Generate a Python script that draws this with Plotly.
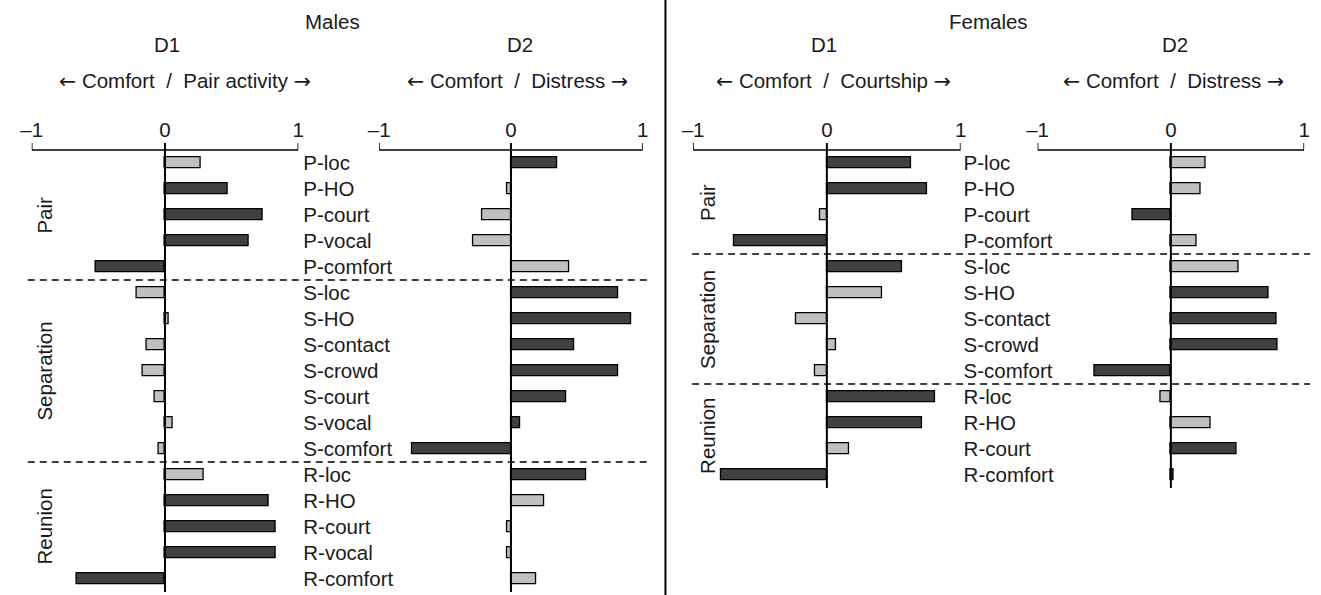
import plotly.graph_objects as go

# ---------------- data ----------------
males_cats = ["P-loc", "P-HO", "P-court", "P-vocal", "P-comfort",
              "S-loc", "S-HO", "S-contact", "S-crowd", "S-court", "S-vocal", "S-comfort",
              "R-loc", "R-HO", "R-court", "R-vocal", "R-comfort"]
males_d1 = [0.27, 0.47, 0.73, 0.63, -0.52,
            -0.21, 0.03, -0.14, -0.17, -0.08, 0.06, -0.05,
            0.29, 0.78, 0.83, 0.83, -0.66]
males_d1_sig = [0, 1, 1, 1, 1, 0, 0, 0, 0, 0, 0, 0, 0, 1, 1, 1, 1]
males_d2 = [0.35, -0.03, -0.22, -0.29, 0.44,
            0.81, 0.91, 0.48, 0.81, 0.42, 0.07, -0.75,
            0.57, 0.25, -0.03, -0.03, 0.19]
males_d2_sig = [1, 0, 0, 0, 0, 1, 1, 1, 1, 1, 1, 1, 1, 0, 0, 0, 0]

females_cats = ["P-loc", "P-HO", "P-court", "P-comfort",
                "S-loc", "S-HO", "S-contact", "S-crowd", "S-comfort",
                "R-loc", "R-HO", "R-court", "R-comfort"]
females_d1 = [0.63, 0.75, -0.05, -0.69,
              0.56, 0.41, -0.23, 0.07, -0.09,
              0.81, 0.71, 0.17, -0.79]
females_d1_sig = [1, 1, 0, 1, 1, 0, 0, 0, 0, 1, 1, 0, 1]
females_d2 = [0.26, 0.22, -0.29, 0.19,
              0.51, 0.73, 0.79, 0.80, -0.57,
              -0.08, 0.30, 0.49, 0.02]
females_d2_sig = [0, 0, 1, 0, 0, 1, 1, 1, 1, 0, 0, 1, 1]

tick_vals = [-1, 0, 1]
tick_text = ["\u20131", "0", "1"]

males_groups = [("Pair", 2), ("Separation", 8), ("Reunion", 14)]
females_groups = [("Pair", 1.5), ("Separation", 6), ("Reunion", 10.5)]
males_breaks = [4.5, 11.5]
females_breaks = [3.5, 8.5]

# ---------------- layout helpers ----------------
W, H = 1321, 595
ROW = 26.0
TOP_PAD = 0.3
FONT = "Liberation Sans, Arial, sans-serif"
TXT = "#1a1a1a"
DARK, LIGHT = "#404040", "#c0c0c0"
FS = 20.5


def pxx(x):
    return x / W


def pxy(y):
    return 1 - y / H


bottom_m = 592.0
bottom_f = 488.0
n_m, n_f = len(males_cats), len(females_cats)
top_px = bottom_m - (n_m + TOP_PAD) * ROW

panels = [
    # (values, sig, xaxis, yaxis, x_px_range)
    (males_d1, males_d1_sig, "x", "y", (21, 291)),
    (males_d2, males_d2_sig, "x2", "y", (373, 640)),
    (females_d1, females_d1_sig, "x3", "y2", (691, 962)),
    (females_d2, females_d2_sig, "x4", "y2", (1040, 1310)),
]

fig = go.Figure()
shapes = []
for vals, sig, xa, ya, (l, r) in panels:
    n = len(vals)
    fig.add_trace(go.Bar(
        x=vals, y=list(range(n)), orientation="h", width=0.42,
        xaxis=xa, yaxis=ya,
        marker=dict(color=[DARK if s else LIGHT for s in sig],
                    line=dict(color="black", width=1.3)),
        showlegend=False, hoverinfo="x+y",
    ))
    bottom_row = n - 0.5
    line = dict(color="black", width=1.6)
    # bracket
    shapes.append(dict(type="line", xref=xa, yref=ya, x0=-1, x1=1, y0=-0.5, y1=-0.5, line=line))
    shapes.append(dict(type="line", xref=xa, yref=ya, x0=-1, x1=-1, y0=-0.5, y1=-0.77, line=line))
    shapes.append(dict(type="line", xref=xa, yref=ya, x0=1, x1=1, y0=-0.5, y1=-0.77, line=line))
    # zero line
    shapes.append(dict(type="line", xref=xa, yref=ya, x0=0, x1=0, y0=-0.77, y1=bottom_row,
                       line=dict(color="black", width=2), layer="above"))

dash = dict(color="black", width=1.6, dash="7px,5px")
for b in males_breaks:
    shapes.append(dict(type="line", xref="paper", yref="y", x0=pxx(17), x1=pxx(648), y0=b, y1=b, line=dash))
for b in females_breaks:
    shapes.append(dict(type="line", xref="paper", yref="y2", x0=pxx(690), x1=pxx(1316), y0=b, y1=b, line=dash))
shapes.append(dict(type="line", xref="paper", yref="paper", x0=pxx(663), x1=pxx(663), y0=0, y1=1,
                   line=dict(color="black", width=2)))

axfont = dict(family=FONT, size=FS, color=TXT)
xcommon = dict(range=[-1, 1], side="top", tickvals=tick_vals, ticktext=tick_text,
               showgrid=False, zeroline=False, showline=False, ticks="",
               tickfont=axfont, fixedrange=True)
ycommon = dict(showgrid=False, zeroline=False, showline=False, ticks="", fixedrange=True)

layout = dict(
    width=W, height=H, margin=dict(l=0, r=0, t=0, b=0),
    paper_bgcolor="white", plot_bgcolor="rgba(0,0,0,0)",
    bargap=0, shapes=shapes,
    font=dict(family=FONT, color=TXT),
)
for (vals, sig, xa, ya, (l, r)) in panels:
    key = "xaxis" if xa == "x" else "xaxis" + xa[1:]
    layout[key] = dict(xcommon, domain=[pxx(l), pxx(r)], anchor=ya)

dom_top = pxy(top_px)
layout["yaxis"] = dict(ycommon, domain=[pxy(bottom_m), dom_top], anchor="x", side="right",
                       range=[n_m - 0.5, -0.5 - TOP_PAD],
                       tickvals=list(range(n_m)), ticktext=males_cats,
                       tickfont=axfont, ticklabelstandoff=4)
layout["yaxis2"] = dict(ycommon, domain=[pxy(bottom_f), dom_top], anchor="x3", side="right",
                        range=[n_f - 0.5, -0.5 - TOP_PAD],
                        tickvals=list(range(n_f)), ticktext=females_cats,
                        tickfont=axfont, ticklabelstandoff=2)
fig.update_layout(**layout)

ann = []
ARROW_L = "<span style='font-family:DejaVu Sans'>\u2190</span>"
ARROW_R = "<span style='font-family:DejaVu Sans'>\u2192</span>"


def text(x, y, s, size=FS, **kw):
    ann.append(dict(x=pxx(x), y=pxy(y), xref="paper", yref="paper", text=s, showarrow=False,
                    font=dict(family=FONT, size=size, color=TXT), xanchor="center", yanchor="middle", **kw))


text(326, 22, "Males")
text(990, 22, "Females")
text(158, 45, "D1")
text(516, 45, "D2")
text(824, 45, "D1")
text(1179, 45, "D2")
text(176, 81, ARROW_L + " Comfort  /  Pair activity " + ARROW_R)
text(513, 81, ARROW_L + " Comfort  /  Distress " + ARROW_R)
text(833, 81, ARROW_L + " Comfort  /  Courtship " + ARROW_R)
text(1178, 81, ARROW_L + " Comfort  /  Distress " + ARROW_R)

for name, row in males_groups:
    ann.append(dict(x=pxx(33), y=row, xref="paper", yref="y", text=name, showarrow=False,
                    textangle=-90, font=dict(family=FONT, size=FS, color=TXT),
                    xanchor="center", yanchor="middle"))
for name, row in females_groups:
    ann.append(dict(x=pxx(705), y=row, xref="paper", yref="y2", text=name, showarrow=False,
                    textangle=-90, font=dict(family=FONT, size=FS, color=TXT),
                    xanchor="center", yanchor="middle"))
fig.update_layout(annotations=ann)

fig.write_html("out.html", config={"displayModeBar": False},
               post_script="document.body.style.margin='0px';document.body.style.overflow='hidden';")
